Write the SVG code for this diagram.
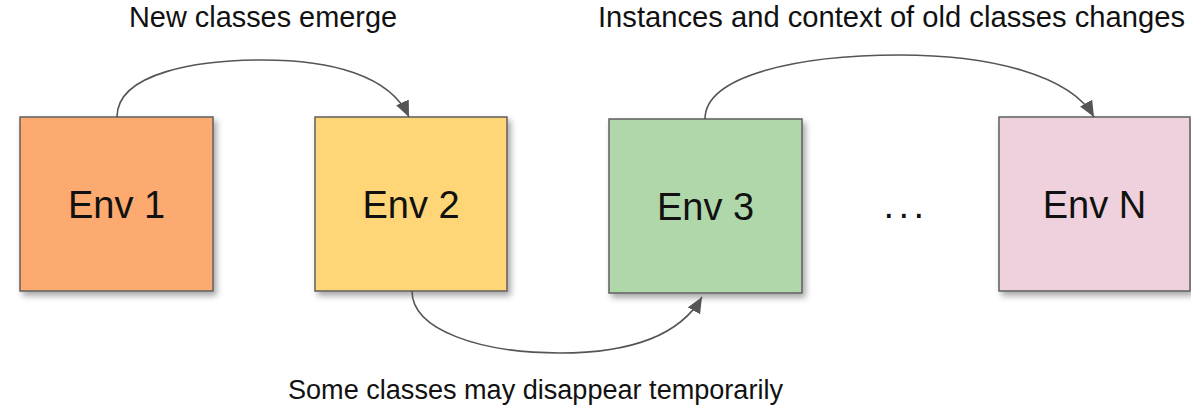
<svg xmlns="http://www.w3.org/2000/svg" width="1191" height="412" viewBox="0 0 1191 412">
<style>
.box{stroke:#5f5f5f;stroke-width:1.5;}
.lbl{font-family:"Liberation Sans",Arial,sans-serif;font-size:38px;fill:#111;text-anchor:middle;}
.cap{font-family:"Liberation Sans",Arial,sans-serif;font-size:29px;fill:#111;}
.capb{font-family:"Liberation Sans",Arial,sans-serif;font-size:27px;fill:#111;}
.conn{fill:none;stroke:#555;stroke-width:1.6;}
</style>
<defs>
<filter id="sh" x="-10%" y="-10%" width="130%" height="130%">
<feDropShadow dx="3" dy="4" stdDeviation="3" flood-color="#000" flood-opacity="0.35"/>
</filter>
<marker id="ah" markerUnits="userSpaceOnUse" markerWidth="18" markerHeight="14" refX="16" refY="7" orient="auto">
<path d="M0,0 L16,7 L0,14 Z" fill="#555"/>
</marker>
</defs>
<rect width="1191" height="412" fill="#fff"/>
<g id="env1">
<rect class="box" x="20" y="117" width="193" height="174" fill="#fcaa6f" filter="url(#sh)"/>
<text class="lbl" x="116.5" y="218">Env 1</text>
</g>
<g id="env2">
<rect class="box" x="315" y="117" width="192" height="174" fill="#fed677" filter="url(#sh)"/>
<text class="lbl" x="411" y="218">Env 2</text>
</g>
<g id="env3">
<rect class="box" x="609" y="119" width="193" height="174" fill="#b0d7aa" filter="url(#sh)"/>
<text class="lbl" x="705.5" y="220">Env 3</text>
</g>
<g id="envN">
<rect class="box" x="999" y="117" width="191" height="174" fill="#eed1dc" filter="url(#sh)"/>
<text class="lbl" x="1094.5" y="218">Env N</text>
</g>
<g id="ellipsis">
<text class="lbl" x="906" y="218" style="letter-spacing:4.4px">...</text>
</g>
<g id="connectors">
<path class="conn" d="M117,117 C117,72 200,60 263,60 C330,60 390,75 409,117" marker-end="url(#ah)"/>
<path class="conn" d="M412,291 C412,330 480,353 560,353 C630,353 680,335 702,297" marker-end="url(#ah)"/>
<path class="conn" d="M705,119 C705,75 800,55 900,55 C990,55 1070,75 1094,117" marker-end="url(#ah)"/>
</g>
<g id="labels">
<text class="cap" x="129" y="27" textLength="268" lengthAdjust="spacingAndGlyphs">New classes emerge</text>
<text class="cap" x="598" y="27" textLength="587" lengthAdjust="spacingAndGlyphs">Instances and context of old classes changes</text>
<text class="capb" x="288" y="399" textLength="495" lengthAdjust="spacingAndGlyphs">Some classes may disappear temporarily</text>
</g>
</svg>
